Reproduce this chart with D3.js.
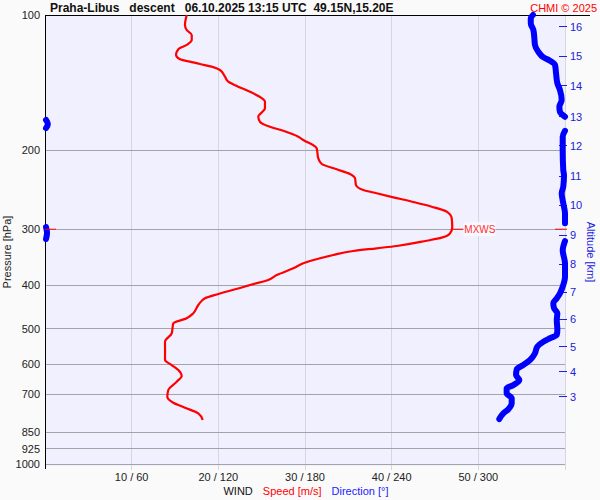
<!DOCTYPE html>
<html><head><meta charset="utf-8">
<script src="https://cdn.jsdelivr.net/npm/d3@7"></script>
<style>body{margin:0;background:#fafafa}svg{display:block}text{font-family:"Liberation Sans",Arial,sans-serif}</style>
</head><body><svg id="c" width="600" height="500"></svg>
<script>
// ---- data ----
const pressureTicks = [100,200,300,400,500,600,700,850,925,1000];
const speedTicks = [10,20,30,40,50];
const speedTickLabels = ["10 / 60","20 / 120","30 / 180","40 / 240","50 / 300"];
const altKm = [3,4,5,6,7,8,9,10,11,12,13,14,15,16];
const altP  = [708,623,548,476,415,359,309.5,265,228.4,195.7,168.5,143.9,123.4,106.2];

const speedP = [100,105.3,108,110.8,113.7,116.6,119.2,122.8,125.5,127,128.6,130.3,132.6,137.2,140.8,143.9,148.2,151.5,156,161.4,168.5,172.9,177.4,181.1,186.7,189.8,198.1,208.5,214.7,220.6,226,231,239.1,245.3,249.5,254.7,260.9,267.3,274.2,283.6,297,306.4,313.3,318.2,326.9,330.8,335.4,342.3,348.2,357.3,366.6,379.5,389.3,399.4,401.5,418.2,427.6,442.5,461.7,473.7,486,511.6,534.2,586.8,601.9,617.5,636.8,655.7,684.2,708.3,730.4,749.3,771.2,798];
const speedV = [16.35,16.15,16.35,16.93,16.93,16.35,15.38,15.12,15.58,16.73,17.88,19.23,20.19,20.77,21.15,22.12,23.65,24.61,25.38,25.38,24.61,24.81,25.96,27.5,29.23,29.8,31.35,31.53,31.93,33.66,35.19,35.77,35.88,36.73,38.27,40.19,42.5,44.62,46.35,46.93,46.99,46.73,45.77,44.04,40.58,38.27,35.57,33.26,31.73,29.8,28.65,26.73,25.76,23.65,23.27,20,18.46,17.69,17.11,16.35,14.8,14.62,13.85,13.85,14.62,15.38,15.77,15.2,14.23,14.11,14.8,16.15,17.69,18.2];

const dirP = [100,101.7,104.3,108,111.8,116.6,120.7,124.2,126.4,129.2,134.8,141.9,146.9,154.6,160.1,164.2,168.5,171.3,174.9,178.6,181.1,186.7,199.8,221.4,227.2,241.2,249.5,262.7,276.5,291,296.7,305.9,315.4,318.7,328.1,333.8,357.3,382.7,402.9,416.7,427.6,438.6,450,461.7,477.8,502.9,515.9,524.8,534.2,548.1,566.9,586.8,601.9,615.3,633.6,650.1,667.2,678.5,695.9,714.2,732.6,755.5,771.2,794];
const dirV = [337.8,336.3,336.3,338.1,338.7,339.2,341.5,345,349.6,353.1,353.8,354.7,356.5,357.7,356.1,356.5,360,0.7,2,0.7,360,358.4,358.4,358.8,359.3,358.8,357.7,358.8,360,360,0.7,1.4,0.7,360,358.8,358.4,360,360,358.4,356.5,354.3,351.9,352.4,354.7,354.3,354.7,354.3,349.6,345,340.8,339.2,335.8,331.1,326.6,326.1,328.4,324.2,319.6,319.6,323.1,323.1,320.7,317.3,314.5];

const mxwsP = 300, mxwsV = 47;

// ---- scales ----
const svg = d3.select("#c");
const x = d3.scaleLinear().domain([0,60]).range([45,565]);
const xd = d3.scaleLinear().domain([0,360]).range([45,565]);
const y = d3.scaleLog().domain([100,1000]).range([15,464]);

svg.append("rect").attr("width",600).attr("height",500).attr("fill","#fafafa");
svg.append("rect").attr("x",45).attr("y",15).attr("width",520).attr("height",451).attr("fill","#f0f0fe");

// vertical grid
svg.append("g").selectAll("line").data(speedTicks.concat([60])).join("line")
  .attr("x1",d=>x(d)).attr("x2",d=>x(d)).attr("y1",15).attr("y2",470)
  .attr("stroke","#d6d6de").attr("stroke-width",1).attr("shape-rendering","crispEdges");
// horizontal grid
svg.append("g").selectAll("line").data(pressureTicks.slice(1)).join("line")
  .attr("x1",45).attr("x2",565).attr("y1",d=>y(d)).attr("y2",d=>y(d))
  .attr("stroke","#a4a4a8").attr("stroke-width",1).attr("shape-rendering","crispEdges");

// axes lines
svg.append("line").attr("x1",45).attr("x2",45).attr("y1",15).attr("y2",469).attr("stroke","#000").attr("shape-rendering","crispEdges");
svg.append("line").attr("x1",45).attr("x2",590).attr("y1",15).attr("y2",15).attr("stroke","#000").attr("shape-rendering","crispEdges");

// pressure labels
svg.append("g").selectAll("text").data(pressureTicks).join("text")
  .attr("x",40).attr("y",d=>y(d)).attr("dy","0.35em").attr("text-anchor","end")
  .attr("font-size",11).attr("fill","#222").text(d=>d);
svg.append("text").attr("transform","translate(11,252) rotate(-90)").attr("text-anchor","middle")
  .attr("font-size",11).attr("fill","#222").text("Pressure [hPa]");

// speed/direction tick labels
svg.append("g").selectAll("text").data(speedTicks).join("text")
  .attr("x",d=>x(d)).attr("y",481).attr("text-anchor","middle")
  .attr("font-size",11).attr("fill","#222").text((d,i)=>speedTickLabels[i]);
const leg = svg.append("text").attr("x",306).attr("y",495).attr("text-anchor","middle").attr("font-size",11);
leg.append("tspan").attr("fill","#111").text("WIND");
leg.append("tspan").attr("fill","#ff0000").attr("dx",10).text("Speed [m/s]");
leg.append("tspan").attr("fill","#2222ff").attr("dx",10).text("Direction [°]");

// altitude axis
const ag = svg.append("g");
ag.selectAll("line").data(altP).join("line")
  .attr("x1",559).attr("x2",567).attr("y1",d=>y(d)).attr("y2",d=>y(d))
  .attr("stroke","#2020e0").attr("stroke-width",1).attr("shape-rendering","crispEdges");
ag.selectAll("text").data(altP).join("text")
  .attr("x",570).attr("y",d=>y(d)).attr("dy","0.35em").attr("font-size",11).attr("fill","#2020e0")
  .text((d,i)=>altKm[i]);
svg.append("text").attr("transform","translate(587,252) rotate(90)").attr("text-anchor","middle")
  .attr("font-size",11).attr("fill","#2020e0").text("Altitude [km]");

// title
svg.append("text").attr("x",50).attr("y",12).attr("font-size",12).attr("font-weight","bold").attr("fill","#111")
  .attr("xml:space","preserve").style("white-space","pre")
  .text("Praha-Libus   descent   06.10.2025 13:15 UTC  49.15N,15.20E");
svg.append("text").attr("x",597).attr("y",12).attr("text-anchor","end").attr("font-size",11).attr("fill","#ff0000").text("CHMI © 2025");

// direction line, split at wraps
const segs = [];
let cur = [];
dirV.forEach((v,i)=>{
  if(i>0 && Math.abs(v-dirV[i-1])>180){ segs.push(cur); cur=[]; }
  cur.push([v,dirP[i]]);
});
segs.push(cur);
const dline = d3.line().x(d=>xd(d[0])).y(d=>y(d[1])).curve(d3.curveMonotoneY);
svg.append("g").selectAll("path").data(segs).join("path")
  .attr("d",dline).attr("fill","none").attr("stroke","#0000ff").attr("stroke-width",6)
  .attr("stroke-linecap","round").attr("stroke-linejoin","round");

// MXWS markers
svg.append("line").attr("x1",45).attr("x2",56).attr("y1",y(mxwsP)).attr("y2",y(mxwsP)).attr("stroke","#ff0000");
svg.append("line").attr("x1",555).attr("x2",567).attr("y1",y(mxwsP)).attr("y2",y(mxwsP)).attr("stroke","#ff0000");
svg.append("rect").attr("x",x(mxwsV)+11).attr("y",y(mxwsP)-7).attr("width",32).attr("height",14).attr("fill","#f8f8ff");
svg.append("line").attr("x1",x(mxwsV)).attr("x2",x(mxwsV)+11).attr("y1",y(mxwsP)).attr("y2",y(mxwsP)).attr("stroke","#ff0000");
svg.append("text").attr("x",x(mxwsV)+12).attr("y",y(mxwsP)).attr("dy","0.35em").attr("font-size",10).attr("fill","#ff3030").text("MXWS");

// speed line
const sline = d3.line().x((d,i)=>x(speedV[i])).y((d,i)=>y(speedP[i])).curve(d3.curveMonotoneY);
svg.append("path").attr("d",sline(speedV)).attr("fill","none").attr("stroke","#ff0000").attr("stroke-width",2.2)
  .attr("stroke-linejoin","round");
</script></body></html>
